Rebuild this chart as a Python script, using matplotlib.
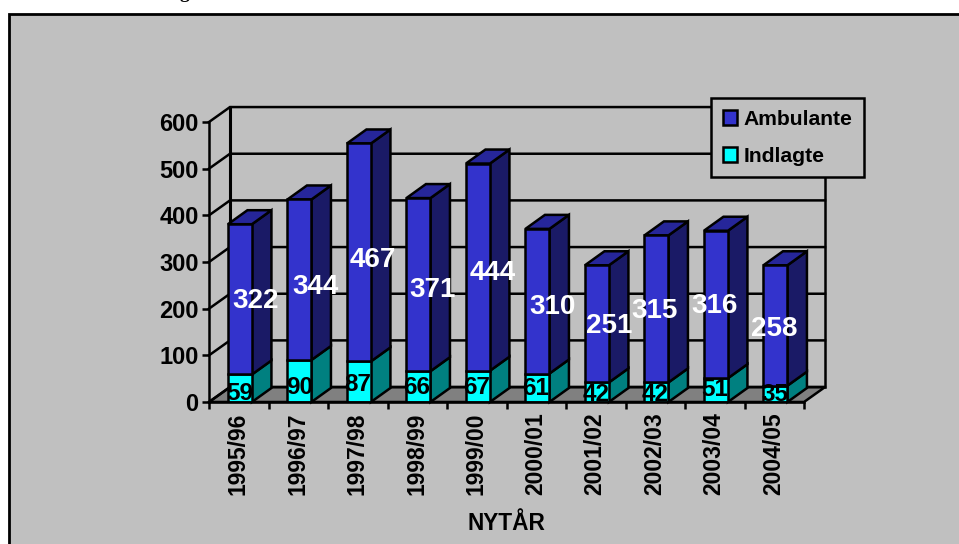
#!/usr/bin/env python3
"""Stacked pseudo-3D columns: Indlagte and Ambulante per NYTÅR season."""
import matplotlib
matplotlib.use("Agg")
import matplotlib.pyplot as plt
from matplotlib.patches import Polygon, Rectangle
import numpy as np

seasons = ["1995/96", "1996/97", "1997/98", "1998/99", "1999/00",
           "2000/01", "2001/02", "2002/03", "2003/04", "2004/05"]
indlagte = [59, 90, 87, 66, 67, 61, 42, 42, 51, 35]
ambulante = [322, 344, 467, 371, 444, 310, 251, 315, 316, 258]
y_ticks = [0, 100, 200, 300, 400, 500, 600]

# hand-placed data labels in the original, shift from segment centre in pixels
amb_shift = [(16, -2), (16.5, -7), (14, -7.5), (14.5, -5.5), (15, -6),
             (15.5, -5.5), (12, -2), (-1.5, -2), (-1, -2), (-1.5, -3.5)]
ind_shift = [(0, -5), (0.5, -6), (-1, -2.5), (-1.5, -1), (-1, -1),
             (-1.5, -1), (-1, -2), (-1.5, -2), (-1, 1), (-0.5, -1)]

W, H = 959, 544
BG = "#C0C0C0"
BLUE, BLUE_SIDE, BLUE_TOP = "#3333CC", "#1A1A66", "#26269A"
CYAN, CYAN_SIDE = "#00FFFF", "#008080"
LW = 1.8

plt.rcParams["font.family"] = ["Liberation Sans", "DejaVu Sans"]
plt.rcParams["font.weight"] = "bold"

fig = plt.figure(figsize=(W / 100, H / 100), dpi=100, facecolor="white")
# panel runs off the right and bottom edge of the picture
fig.add_artist(Rectangle((8.5 / W, -0.1), 1.1, 1.1 - 13.5 / H, transform=fig.transFigure,
                         facecolor=BG, edgecolor="black", linewidth=2.0, zorder=-1))
# descender of the caption cut off above the chart
fig.text(184 / W, 1 + 2 / H, "g", fontsize=14, family="Liberation Serif", ha="center", va="baseline")

ax = fig.add_axes([209 / W, 1 - 402 / H, (804 - 209) / W, (402 - 122) / H])
ax.set_xlim(0, 10)
ax.set_ylim(0, 600)
ax.patch.set_visible(False)

# depth of the walls and of the columns, in data units
wall_dx, wall_dy = 21 / 59.5, 32
bar_dx, bar_dy = 19.5 / 59.5, 30
bar_w = 24 / 59.5

ax.add_patch(Polygon([(0, 0), (10, 0), (10 + wall_dx, wall_dy), (wall_dx, wall_dy)],
                     facecolor="#808080", edgecolor="black", linewidth=LW, clip_on=False, zorder=1))
for t in y_ticks:
    ax.plot([0, wall_dx, 10 + wall_dx], [t, t + wall_dy, t + wall_dy], color="black", lw=LW,
            clip_on=False, zorder=1, solid_joinstyle="miter")
ax.plot([wall_dx, wall_dx], [wall_dy, 600 + wall_dy], color="black", lw=2.2, clip_on=False, zorder=1)
ax.plot([10 + wall_dx] * 2, [wall_dy, 600 + wall_dy], color="black", lw=LW, clip_on=False, zorder=1)

x = np.arange(len(seasons)) + 0.52
ind = np.array(indlagte)
amb = np.array(ambulante)
bars_ind = ax.bar(x, ind, bar_w, color=CYAN, edgecolor="black", linewidth=LW, label="Indlagte", zorder=3)
bars_amb = ax.bar(x, amb, bar_w, bottom=ind, color=BLUE, edgecolor="black", linewidth=LW,
                  label="Ambulante", zorder=3)

for xi, lo, hi in zip(x, ind, ind + amb):
    r = xi + bar_w / 2
    l = xi - bar_w / 2
    ax.add_patch(Polygon([(r, 0), (r + bar_dx, bar_dy), (r + bar_dx, lo + bar_dy), (r, lo)],
                         facecolor=CYAN_SIDE, edgecolor="black", linewidth=LW, clip_on=False, zorder=2))
    ax.add_patch(Polygon([(r, lo), (r + bar_dx, lo + bar_dy), (r + bar_dx, hi + bar_dy), (r, hi)],
                         facecolor=BLUE_SIDE, edgecolor="black", linewidth=LW, clip_on=False, zorder=2))
    ax.add_patch(Polygon([(l, hi), (l + bar_dx, hi + bar_dy), (r + bar_dx, hi + bar_dy), (r, hi)],
                         facecolor=BLUE_TOP, edgecolor="black", linewidth=LW, clip_on=False, zorder=2))

for xi, lo, a, i_s, a_s in zip(x, ind, amb, ind_shift, amb_shift):
    ax.annotate(str(lo), (xi, lo / 2), xytext=i_s, textcoords="offset pixels", ha="center",
                va="center", fontsize=17.5, color="black", zorder=5)
    ax.annotate(str(a), (xi, lo + a / 2), xytext=a_s, textcoords="offset pixels", ha="center",
                va="center", fontsize=20, color="white", zorder=5)

for side in ("top", "right"):
    ax.spines[side].set_visible(False)
for side in ("left", "bottom"):
    ax.spines[side].set_linewidth(LW)
    ax.spines[side].set_zorder(4)

ax.set_yticks(y_ticks)
ax.set_xticks(np.arange(11), labels=[])
ax.set_xticks(np.arange(10) + 0.49, labels=seasons, minor=True, rotation=90)
ax.tick_params(axis="both", which="major", length=5, width=LW, labelsize=17, pad=2.5)
ax.tick_params(axis="x", which="minor", length=0, labelsize=16.5, pad=7.5)
ax.set_xlabel("NYTÅR", fontsize=16.3, fontweight="bold", labelpad=12)

leg = ax.legend([bars_amb, bars_ind], ["Ambulante", "Indlagte"], loc="upper left",
                bbox_to_anchor=(711 / W, 1 - 98 / H), bbox_transform=fig.transFigure,
                borderaxespad=0, fontsize=15.2, fancybox=False, framealpha=1, facecolor=BG,
                edgecolor="black", handlelength=0.7, handleheight=0.7, handletextpad=0.3,
                labelspacing=0.85, borderpad=0.55)
leg.get_frame().set_linewidth(LW)
leg.set_zorder(6)
for patch in leg.get_patches():
    patch.set_linewidth(LW)

fig.savefig("out.png", dpi=100)
